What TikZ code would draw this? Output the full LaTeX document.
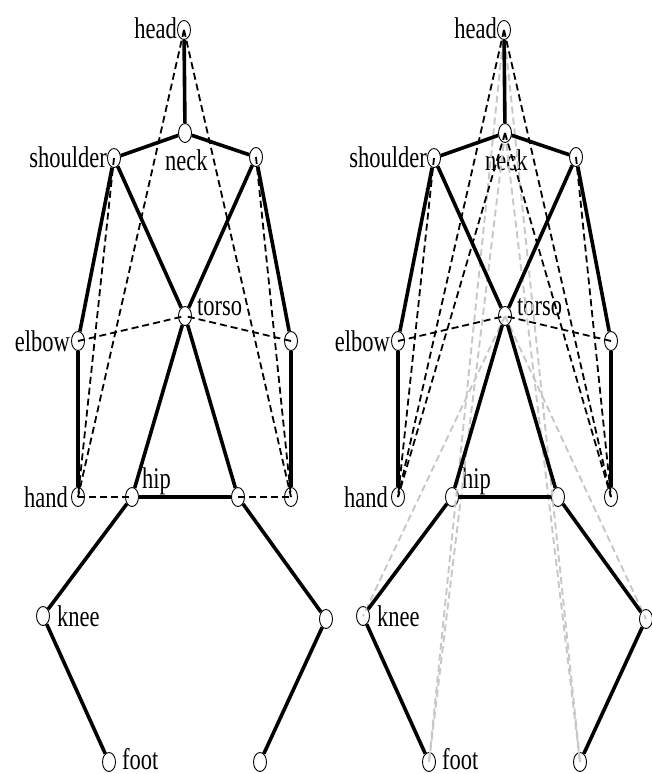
\documentclass[tikz,border=0pt]{standalone}
\usepackage{fontspec}
\setmainfont{Liberation Serif}
\newfontfamily\lblfont[FakeStretch=0.75]{Liberation Serif}
\usetikzlibrary{shapes.geometric}
\newcommand\placejoints[2]{%
  \begin{scope}[xshift=#2pt]
    \node[joint] (#1head)  at (184,30)  {};
    \node[joint] (#1neck)  at (185,133) {};
    \node[joint] (#1ls)    at (114,158) {};
    \node[joint] (#1rs)    at (256,157) {};
    \node[joint] (#1torso) at (185,316) {};
    \node[joint] (#1le)    at (78,341)  {};
    \node[joint] (#1re)    at (291,341) {};
    \node[joint] (#1lh)    at (78,497)  {};
    \node[joint] (#1lp)    at (132,497) {};
    \node[joint] (#1rp)    at (238,497) {};
    \node[joint] (#1rh)    at (291,497) {};
    \node[joint] (#1lk)    at (43,616)  {};
    \node[joint] (#1rk)    at (326,619) {};
    \node[joint] (#1lf)    at (109,762) {};
    \node[joint] (#1rf)    at (260,762) {};
    \node[lbl,anchor=base east] (#1Thead)  at (177,38)  {head};
    \node[lbl,anchor=base west] (#1Tneck)  at (165,170) {neck};
    \node[lbl,anchor=base east] (#1Tsh)    at (107,167) {shoulder};
    \node[lbl,anchor=base west] (#1Ttorso) at (197,315) {torso};
    \node[lbl,anchor=base east] (#1Telbow) at (70,351)  {elbow};
    \node[lbl,anchor=base east] (#1Thand)  at (68,507)  {hand};
    \node[lbl,anchor=base west] (#1Thip)   at (142,488) {hip};
    \node[lbl,anchor=base west] (#1Tknee)  at (57,626)  {knee};
    \node[lbl,anchor=base west] (#1Tfoot)  at (122,769) {foot};
  \end{scope}}
\newcommand\drawbones[1]{%
  \draw[bone] (#1head) -- (#1neck);
  \draw[bone] (#1neck) -- (#1ls);
  \draw[bone] (#1neck) -- (#1rs);
  \draw[bone] (#1ls) -- (#1le);
  \draw[bone] (#1le) -- (#1lh);
  \draw[bone] (#1rs) -- (#1re);
  \draw[bone] (#1re) -- (#1rh);
  \draw[bone] (#1ls) -- (#1torso);
  \draw[bone] (#1rs) -- (#1torso);
  \draw[bone] (#1torso) -- (#1lp);
  \draw[bone] (#1torso) -- (#1rp);
  \draw[bone,line width=4.5pt] (#1lp) -- (#1rp);
  \draw[bone] (#1lp) -- (#1lk);
  \draw[bone] (#1lk) -- (#1lf);
  \draw[bone] (#1rp) -- (#1rk);
  \draw[bone] (#1rk) -- (#1rf);}
\newcommand\drawcommonlinks[1]{%
  \draw[xlink] (#1head.center) -- (#1lh.center);
  \draw[xlink] (#1head.center) -- (#1rh.center);
  \draw[xlink] (#1ls.center) -- (#1lh.center);
  \draw[xlink] (#1rs.center) -- (#1rh.center);
  \draw[xlink] (#1le.center) -- (#1torso.center);
  \draw[xlink] (#1re.center) -- (#1torso.center);}
\begin{document}
\begin{tikzpicture}[x=1pt,y=-1pt,
  joint/.style={draw,ellipse,minimum width=13pt,minimum height=19pt,inner sep=0pt,line width=0.9pt},
  bone/.style={line width=3.6pt},
  xlink/.style={line width=1.8pt,dash pattern=on 7pt off 4pt},
  glink/.style={line width=1.9pt,dash pattern=on 7pt off 4pt,color=black!22},
  lbl/.style={inner sep=0pt,font=\lblfont\fontsize{30}{30}\selectfont}]
\useasboundingbox (0,0) rectangle (651,774);
\placejoints{A}{0}
\placejoints{B}{320}
% right figure: grey extra links
\draw[glink] (Bhead.center) -- (Blf.center);
\draw[glink] (Bneck.center) -- (Blf.center);
\draw[glink] (Bhead.center) -- (Brf.center);
\draw[glink] (Bneck.center) -- (Brf.center);
\draw[glink] (Btorso.center) -- (Blk.center);
\draw[glink] (Btorso.center) -- (Brk.center);
% left figure links
\drawcommonlinks{A}
\draw[xlink] (Alh.center) -- (Alp.center);
\draw[xlink] (Arp.center) -- (Arh.center);
% right figure links
\drawcommonlinks{B}
\draw[xlink] (Bneck.center) -- (Blh.center);
\draw[xlink] (Bneck.center) -- (Brh.center);
\drawbones{A}
\drawbones{B}
\end{tikzpicture}
\end{document}
